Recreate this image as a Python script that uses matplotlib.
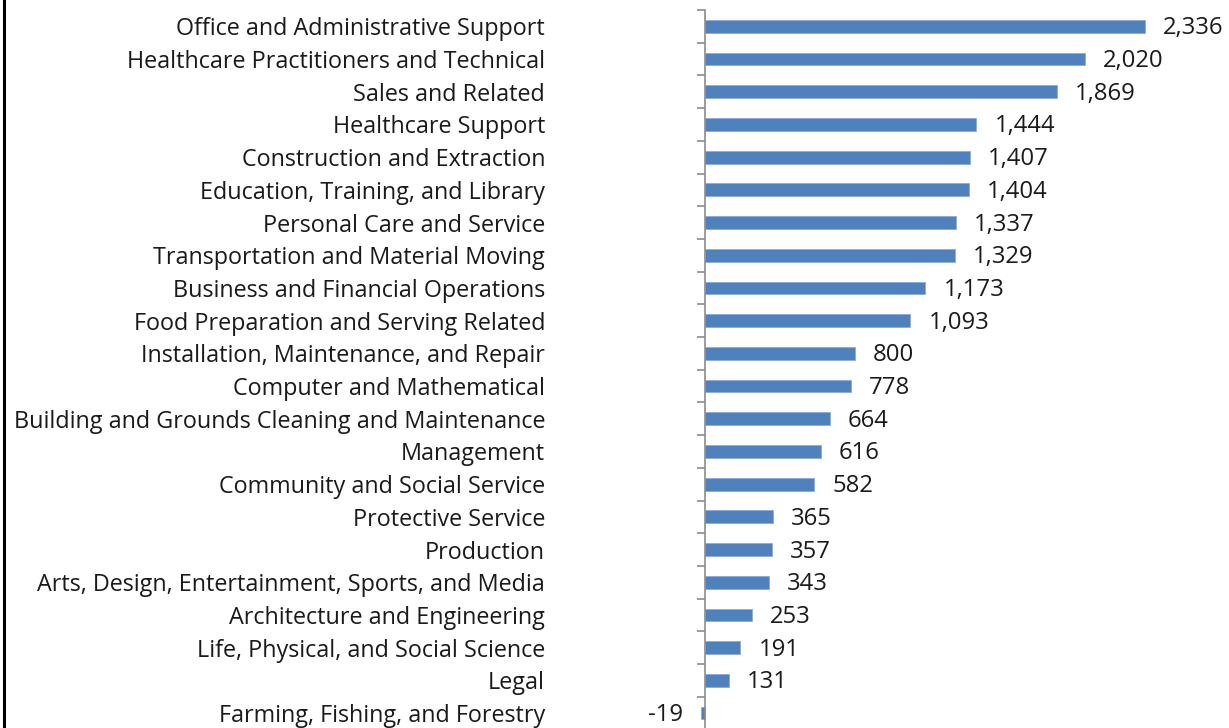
import matplotlib
matplotlib.use("Agg")
import matplotlib.pyplot as plt
from matplotlib.lines import Line2D
from matplotlib.transforms import offset_copy
import numpy as np

categories = [
    "Office and Administrative Support",
    "Healthcare Practitioners and Technical",
    "Sales and Related",
    "Healthcare Support",
    "Construction and Extraction",
    "Education, Training, and Library",
    "Personal Care and Service",
    "Transportation and Material Moving",
    "Business and Financial Operations",
    "Food Preparation and Serving Related",
    "Installation, Maintenance, and Repair",
    "Computer and Mathematical",
    "Building and Grounds Cleaning and Maintenance",
    "Management",
    "Community and Social Service",
    "Protective Service",
    "Production",
    "Arts, Design, Entertainment, Sports, and Media",
    "Architecture and Engineering",
    "Life, Physical, and Social Science",
    "Legal",
    "Farming, Fishing, and Forestry",
]
values = [2336, 2020, 1869, 1444, 1407, 1404, 1337, 1329, 1173, 1093, 800, 778,
          664, 616, 582, 365, 357, 343, 253, 191, 131, -19]

W, H = 1229, 728
fig = plt.figure(figsize=(W / 100, H / 100), dpi=100)
plt.rcParams['font.family'] = ['Open Sans', 'DejaVu Sans']

# axes placement in pixels
ax_left_px, ax_right_px = 680, 1229
ax_top_px, ax_bot_px = 10, 729.4
ax = fig.add_axes([ax_left_px / W, 1 - ax_bot_px / H,
                   (ax_right_px - ax_left_px) / W, (ax_bot_px - ax_top_px) / H])

scale = 440 / 2336.0  # px per unit
zero_px = 704.5
xmin = (ax_left_px - zero_px) / scale
xmax = (ax_right_px - zero_px) / scale

n = len(categories)
y = np.arange(n)
ax.barh(y, values, height=0.39, color="#4F81BD", edgecolor="#8EAADB", linewidth=0.6)
ax.set_xlim(xmin, xmax)
ax.set_ylim(n - 0.5, -0.5)

for s in ["top", "right", "bottom"]:
    ax.spines[s].set_visible(False)
ax.spines["left"].set_position(("data", 0))
ax.spines["left"].set_color("#8c8c8c")
ax.spines["left"].set_linewidth(1.2)
ax.set_xticks([])

# category labels as major ticks (no marks), boundaries as minor ticks
ax.set_yticks(y)
ax.set_yticklabels(categories, fontsize=16.8, color="#1a1a1a")
ax.tick_params(axis="y", which="major", length=0, pad=(zero_px - 545) * 0.72)
ax.set_yticks(np.arange(-0.5, n, 1.0), minor=True)
ax.tick_params(axis="y", which="minor", length=6, width=1.2, color="#8c8c8c", direction="out")

off = 18 / scale
tr = offset_copy(ax.transData, fig=fig, x=0, y=-2.0, units="dots")
for yi, v in zip(y, values):
    label = f"{v:,}"
    if v >= 0:
        ax.text(v + off, yi, label, va="center", ha="left", fontsize=17.2,
                color="#1a1a1a", transform=tr)
    else:
        ax.text(v - off, yi, label, va="center", ha="right", fontsize=17.2,
                color="#1a1a1a", transform=tr)

fig.add_artist(Line2D([4 / W, 4 / W], [0, 1], color="black", linewidth=2.2))

fig.savefig("out.png", dpi=100)
